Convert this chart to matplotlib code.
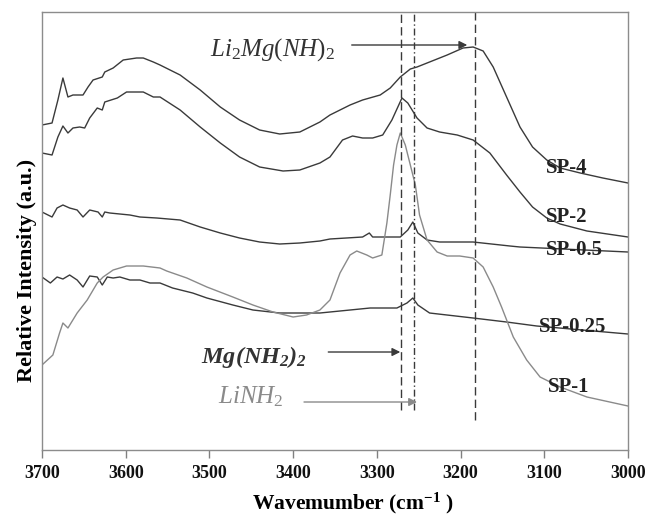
import numpy as np
import matplotlib
matplotlib.use("Agg")
import matplotlib.pyplot as plt

plt.rcParams['font.family'] = ['Liberation Serif', 'DejaVu Serif']
plt.rcParams['mathtext.fontset'] = 'custom'
plt.rcParams['mathtext.rm'] = 'Liberation Serif'
plt.rcParams['mathtext.it'] = 'Liberation Serif:italic'
plt.rcParams['mathtext.bf'] = 'Liberation Serif:bold'
plt.rcParams['mathtext.bfit'] = 'Liberation Serif:italic:bold'

# spectra: wavenumber (cm-1), relative intensity (a.u.)
sp4_w = [3700, 3688, 3681, 3675, 3669, 3663, 3651, 3645, 3639, 3628, 3625, 3615, 3603, 3587,
         3579, 3567, 3559, 3535, 3511, 3487, 3464, 3440, 3416, 3392, 3368, 3356, 3332, 3317,
         3296, 3284, 3272, 3260, 3252, 3237, 3216, 3197, 3185, 3173, 3161, 3145, 3129, 3114,
         3097, 3081, 3057, 3030, 3000]
sp4_i = [3.25, 3.27, 3.50, 3.72, 3.53, 3.55, 3.55, 3.63, 3.70, 3.73, 3.78, 3.82, 3.90, 3.92,
         3.92, 3.88, 3.85, 3.75, 3.60, 3.43, 3.30, 3.20, 3.16, 3.18, 3.28, 3.35, 3.45, 3.50,
         3.55, 3.62, 3.73, 3.81, 3.83, 3.88, 3.95, 4.02, 4.03, 3.99, 3.83, 3.53, 3.23, 3.03,
         2.90, 2.82, 2.77, 2.72, 2.67]

sp2_w = [3700, 3688, 3681, 3675, 3669, 3663, 3655, 3649, 3643, 3634, 3628, 3625, 3610, 3599,
         3579, 3567, 3559, 3535, 3511, 3487, 3464, 3440, 3412, 3392, 3368, 3356, 3341, 3329,
         3317, 3305, 3293, 3282, 3270, 3263, 3252, 3240, 3225, 3204, 3185, 3165, 3145, 3129,
         3114, 3097, 3081, 3049, 3000]
sp2_i = [2.97, 2.95, 3.13, 3.24, 3.17, 3.22, 3.23, 3.22, 3.32, 3.42, 3.40, 3.48, 3.52, 3.58,
         3.58, 3.53, 3.53, 3.40, 3.23, 3.07, 2.93, 2.83, 2.79, 2.80, 2.87, 2.93, 3.10, 3.14,
         3.12, 3.12, 3.15, 3.30, 3.52, 3.47, 3.32, 3.22, 3.18, 3.15, 3.10, 2.97, 2.75, 2.58,
         2.43, 2.32, 2.26, 2.19, 2.13]

sp05_w = [3700, 3688, 3682, 3675, 3667, 3658, 3651, 3643, 3633, 3628, 3625, 3619, 3595, 3583,
          3563, 3535, 3511, 3487, 3464, 3440, 3416, 3392, 3368, 3356, 3317, 3309, 3305, 3272,
          3263, 3257, 3251, 3240, 3225, 3185, 3141, 3129, 3000]
sp05_i = [2.38, 2.33, 2.42, 2.45, 2.42, 2.40, 2.33, 2.40, 2.38, 2.33, 2.38, 2.37, 2.35, 2.33,
          2.32, 2.30, 2.23, 2.17, 2.12, 2.08, 2.06, 2.07, 2.09, 2.11, 2.13, 2.17, 2.13, 2.13,
          2.20, 2.28, 2.17, 2.10, 2.08, 2.08, 2.04, 2.03, 1.98]

sp025_w = [3700, 3690, 3682, 3675, 3667, 3658, 3651, 3643, 3634, 3628, 3622, 3615, 3607, 3595,
           3583, 3571, 3559, 3544, 3520, 3503, 3472, 3448, 3416, 3392, 3368, 3356, 3308, 3276,
           3264, 3257, 3251, 3237, 3185, 3145, 3109, 3000]
sp025_i = [1.73, 1.67, 1.73, 1.71, 1.75, 1.70, 1.63, 1.74, 1.73, 1.65, 1.73, 1.72, 1.73, 1.70,
           1.70, 1.67, 1.67, 1.62, 1.57, 1.52, 1.45, 1.40, 1.37, 1.37, 1.37, 1.38, 1.42, 1.42,
           1.47, 1.52, 1.45, 1.37, 1.32, 1.28, 1.24, 1.16]

sp1_w = [3700, 3687, 3679, 3675, 3669, 3658, 3646, 3634, 3627, 3615, 3599, 3579, 3559, 3551,
         3527, 3503, 3472, 3448, 3424, 3400, 3384, 3368, 3356, 3344, 3332, 3324, 3312, 3305,
         3294, 3288, 3284, 3280, 3276, 3272, 3266, 3260, 3254, 3249, 3240, 3228, 3216, 3201,
         3185, 3173, 3161, 3151, 3137, 3121, 3105, 3081, 3049, 3000]
sp1_i = [0.85, 0.95, 1.17, 1.27, 1.22, 1.37, 1.50, 1.67, 1.73, 1.80, 1.84, 1.84, 1.82, 1.79,
         1.72, 1.63, 1.53, 1.45, 1.38, 1.33, 1.35, 1.40, 1.50, 1.77, 1.95, 1.99, 1.95, 1.92,
         1.95, 2.27, 2.55, 2.85, 3.05, 3.17, 3.05, 2.85, 2.65, 2.35, 2.10, 1.98, 1.94, 1.94,
         1.92, 1.83, 1.63, 1.43, 1.13, 0.90, 0.73, 0.63, 0.53, 0.44]

# reference band positions (cm-1)
band_mg = 3271
band_li = 3256
band_imide = 3183

dark = '#3a3a3a'
grey = '#8a8a8a'

fig = plt.figure(figsize=(6.45, 5.15), dpi=100)
ax = fig.add_axes([0.0651, 0.1262, 0.9085, 0.8505])

ax.plot(sp4_w, sp4_i, color=dark, lw=1.0)
ax.plot(sp2_w, sp2_i, color=dark, lw=1.0)
ax.plot(sp05_w, sp05_i, color=dark, lw=1.0)
ax.plot(sp025_w, sp025_i, color=dark, lw=1.0)
ax.plot(sp1_w, sp1_i, color=grey, lw=1.0)

ax.vlines(band_mg, 0.40, 4.38, colors=dark, linestyles=(0, (6, 3)), lw=1.0)
ax.vlines(band_li, 0.40, 4.38, colors=dark, linestyles=(0, (5, 2, 1, 2)), lw=1.0)
ax.vlines(band_imide, 0.30, 4.38, colors=dark, linestyles=(0, (6, 3)), lw=1.0)

arw = dict(arrowstyle='-|>', lw=1.0, mutation_scale=12, shrinkA=0, shrinkB=0)
ax.annotate('', xy=(3192, 4.05), xytext=(3330, 4.05), arrowprops=dict(color=dark, **arw))
ax.annotate('', xy=(3272, 0.98), xytext=(3358, 0.98), arrowprops=dict(color=dark, **arw))
ax.annotate('', xy=(3252, 0.48), xytext=(3387, 0.48), arrowprops=dict(color=grey, **arw))

ax.text(3499, 4.00, r'$\mathit{Li_2Mg(NH)_2}$', fontsize=18, color='#333333', va='center')
ax.text(3510, 0.93, r'$\mathbfit{Mg(NH_2)_2}$', fontsize=17.5, color='#333333', va='center')
ax.text(3490, 0.53, r'$\mathit{LiNH_2}$', fontsize=18, color=grey, va='center')

lbl = dict(fontsize=15, fontweight='bold', color='#222222', va='center')
ax.text(3098, 2.82, 'SP-4', **lbl)
ax.text(3098, 2.33, 'SP-2', **lbl)
ax.text(3098, 2.00, 'SP-0.5', **lbl)
ax.text(3106, 1.23, 'SP-0.25', **lbl)
ax.text(3096, 0.63, 'SP-1', **lbl)

ax.set_xlim(3700, 3000)
ax.set_ylim(0, 4.38)
ax.set_xticks(np.arange(3000, 3701, 100))
ax.set_yticks([])
for lab in ax.get_xticklabels():
    lab.set_fontweight('bold')
ax.tick_params(axis='x', direction='out', length=6, width=1, colors='#808080',
               labelcolor='#111111', labelsize=13, pad=5)
for s in ax.spines.values():
    s.set_color('#8c8c8c')
    s.set_linewidth(1.0)

ax.set_xlabel(r'Wavemumber (cm$^{\mathbf{-1}}$ )', fontsize=15.5, fontweight='bold')
ax.xaxis.label.set_va('center')
ax.xaxis.set_label_coords(0.53, -0.121)
ax.set_ylabel('Relative Intensity (a.u.)', fontsize=16, fontweight='bold')
ax.yaxis.set_label_coords(-0.008, 0.41)

fig.savefig('out.png', dpi=100)
